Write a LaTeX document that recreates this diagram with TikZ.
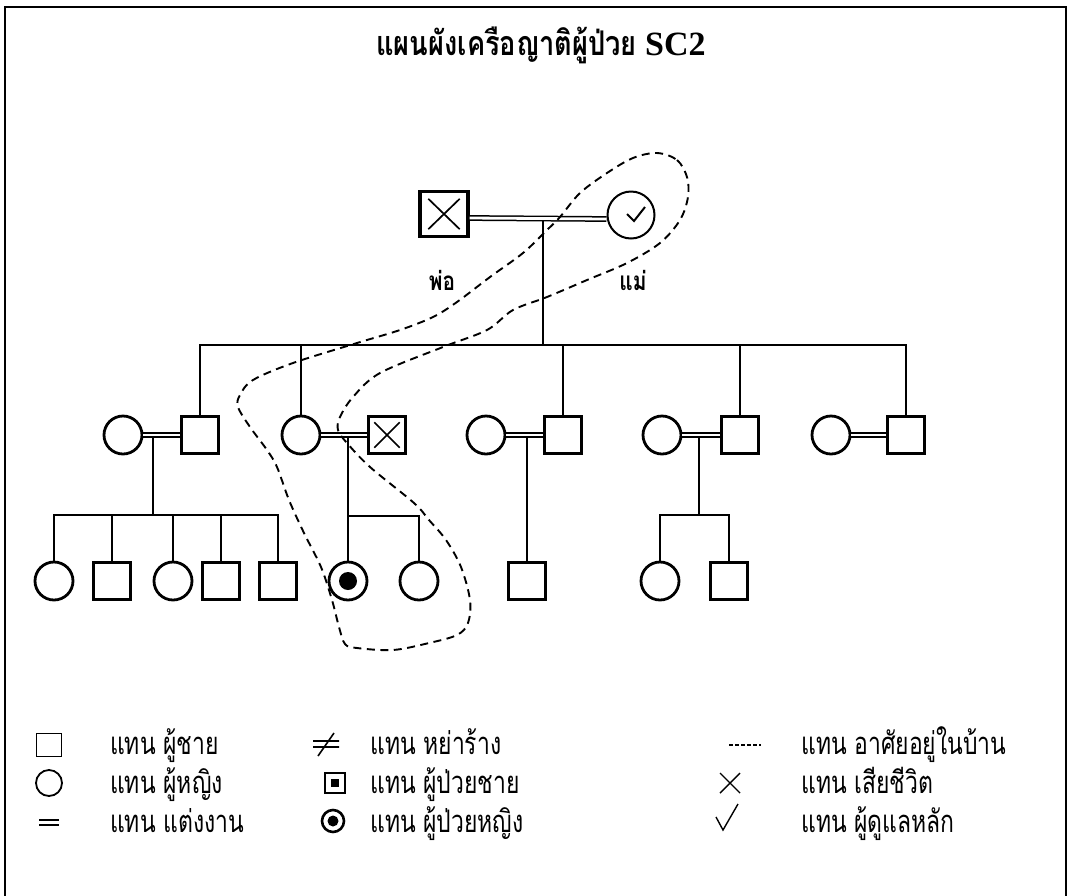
\documentclass[tikz,border=0pt]{standalone}
\usepackage{fontspec}
\setmainfont{Liberation Serif}
\newfontfamily\thai[Script=Thai,FakeStretch=0.8]{Loma}
\newfontfamily\thain[Script=Thai,FakeStretch=0.74]{Loma}
\usetikzlibrary{calc}
\tikzset{
  man/.style={draw, rectangle, line width=2.4pt, minimum width=37pt, minimum height=37pt, inner sep=0pt},
  woman/.style={draw, circle, line width=2.8pt, minimum size=38pt, inner sep=0pt},
  link/.style={line width=1.7pt},
  marr/.style={double, double distance=2.8pt, line width=1.5pt},
  home/.style={dash pattern=on 8pt off 5.5pt, line width=1.9pt},
  cross/.style={line width=1.7pt},
  lgtext/.style={anchor=base west, inner sep=0pt, font=\fontsize{31}{34}\selectfont\thain},
  lbl/.style={anchor=base, inner sep=0pt, font=\fontsize{26}{30}\selectfont\bfseries\thai},
}
\begin{document}
\begin{tikzpicture}[x=1pt,y=-1pt]
\clip (0,0) rectangle (1071,895);
\fill[white] (0,0) rectangle (1071,895);
\draw[line width=2.6pt] (5,7) rectangle (1066,905);

% title
\node[anchor=base, inner sep=0pt] (title) at (541,55) {\fontsize{34}{40}\selectfont\bfseries\thai แผนผังเครือญาติผู้ป่วย\rmfamily\ SC2};

% generation 1
\node[draw, rectangle, line width=3.4pt, minimum width=48pt, minimum height=45pt, inner sep=0pt] (f) at (444,214) {};
\node[draw, circle, line width=2pt, minimum size=47pt, inner sep=0pt] (m) at (631,215) {};
\draw[cross] ($(f.north west)+(10,9)$) -- ($(f.south east)+(-10,-9)$);
\draw[cross] ($(f.north east)+(-10,9)$) -- ($(f.south west)+(10,-9)$);
\draw[line width=2pt] ($(m.center)+(-4,-1)$) -- ($(m.center)+(3,6)$) -- ($(m.center)+(14,-8)$);
\node[lbl] (lf) at (442,290) {พ่อ};
\node[lbl] (lm) at (633,290) {แม่};

% generation 2
\node[woman] (w1) at (123,435) {};
\node[man]   (s1) at (200,435) {};
\node[woman] (w2) at (301,435) {};
\node[man]   (s2) at (387,435) {};
\node[woman] (w3) at (486,435) {};
\node[man]   (s3) at (563,435) {};
\node[woman] (w4) at (662,435) {};
\node[man]   (s4) at (740,435) {};
\node[woman] (w5) at (831,435) {};
\node[man]   (s5) at (906,435) {};
\draw[cross] ($(s2.north west)+(7,7)$) -- ($(s2.south east)+(-7,-7)$);
\draw[cross] ($(s2.north east)+(-7,7)$) -- ($(s2.south west)+(7,-7)$);

% generation 3
\node[woman] (c1) at (54,581) {};
\node[man]   (c2) at (112,581) {};
\node[woman] (c3) at (173,581) {};
\node[man]   (c4) at (221,581) {};
\node[man]   (c5) at (278,581) {};
\node[woman] (p)  at (348,581) {};
\fill (p.center) circle (9pt);
\node[woman] (c7) at (419,581) {};
\node[man]   (c8) at (527,581) {};
\node[woman] (c9) at (660,581) {};
\node[man]   (c10) at (729,581) {};

% descent lines
\coordinate (pd) at (543,221);
\coordinate (sib) at (543,345);
\draw[link] (pd) -- (sib);
\draw[link] (s1.north) |- (sib) -| (s5.north);
\foreach \n in {w2,s3,s4} \draw[link] (\n.north) -- (\n.north |- sib);

\coordinate (d1) at (153,437); \coordinate (j1) at (153,515);
\draw[link] (d1) -- (j1);
\draw[link] (c1.north) |- (j1) -| (c5.north);
\foreach \n in {c2,c3,c4} \draw[link] (\n.north) -- (\n.north |- j1);

\coordinate (d2) at (348,437); \coordinate (j2) at (348,516);
\draw[link] (d2) -- (p.north);
\draw[link] (j2) -| (c7.north);

\coordinate (d3) at (527,437);
\draw[link] (d3) -- (c8.north);

\coordinate (d4) at (699,437); \coordinate (j4) at (699,515);
\draw[link] (d4) -- (j4);
\draw[link] (c9.north) |- (j4) -| (c10.north);

% marriages
\draw[marr] ($(f.east)+(0,4)$) -- ($(m.west)+(0,4)$);
\draw[marr] (w1.east) -- (s1.west);
\draw[marr] (w2.east) -- (s2.west);
\draw[marr] (w3.east) -- (s3.west);
\draw[marr] (w4.east) -- (s4.west);
\draw[marr] (w5.east) -- (s5.west);

% household enclosure
\draw[home] plot[smooth cycle, tension=0.55] coordinates {
 (657,153) (677,160) (687,177) (688,197) (680,220) (660,243) (627,263) (587,280)
 (547,297) (513,310) (487,330) (443,347) (380,373) (353,397) (340,417) (338,430)
 (347,443) (370,467) (414,503) (429,520) (446,540) (461,567) (470,600) (468,623)
 (457,635) (429,643) (393,650) (357,648) (345,644) (339,627) (332,600) (321,567)
 (304,533) (289,500) (277,467) (267,450) (250,427) (238,407) (240,395) (253,380)
 (293,363) (357,343) (400,330) (433,317) (457,302) (490,277) (523,253) (547,230)
 (560,217) (580,193) (607,173) (633,158)};

% legend symbols
\node[draw, rectangle, line width=1.8pt, minimum width=25pt, minimum height=23pt, inner sep=0pt] (lsq) at (49,745) {};
\node[draw, circle, line width=1.8pt, minimum size=26pt, inner sep=0pt] (lci) at (49,783) {};
\draw[line width=1.6pt] (39,820) -- (59,820) (39,825) -- (59,825);
\draw[line width=1.6pt] (313,741) -- (339,741) (313,747) -- (339,747) (318,756) -- (334,733);
\node[draw, rectangle, line width=2.6pt, minimum size=20pt, inner sep=0pt] (lpm) at (335,783) {};
\fill ($(lpm.center)+(-4,-4)$) rectangle ($(lpm.center)+(4,4)$);
\node[draw, circle, line width=2.6pt, minimum size=22pt, inner sep=0pt] (lpf) at (333,821) {};
\fill (lpf.center) circle (5.5pt);
\draw[dash pattern=on 4pt off 2pt, line width=1.3pt] (729,745) -- (761,745);
\draw[line width=1.4pt] (720,773) -- (740,793) (720,793) -- (740,773);
\draw[line width=1.4pt] (716,817) -- (723,830) -- (738,804);

% legend texts
\node[lgtext] (t11) at (110,754) {แทน ผู้ชาย};
\node[lgtext] (t12) at (110,793) {แทน ผู้หญิง};
\node[lgtext] (t13) at (110,832) {แทน แต่งงาน};
\node[lgtext] (t21) at (370,754) {แทน หย่าร้าง};
\node[lgtext] (t22) at (370,793) {แทน ผู้ป่วยชาย};
\node[lgtext] (t23) at (370,832) {แทน ผู้ป่วยหญิง};
\node[lgtext] (t31) at (801,754) {แทน อาศัยอยู่ในบ้าน};
\node[lgtext] (t32) at (801,793) {แทน เสียชีวิต};
\node[lgtext] (t33) at (801,832) {แทน ผู้ดูแลหลัก};
\end{tikzpicture}
\end{document}
